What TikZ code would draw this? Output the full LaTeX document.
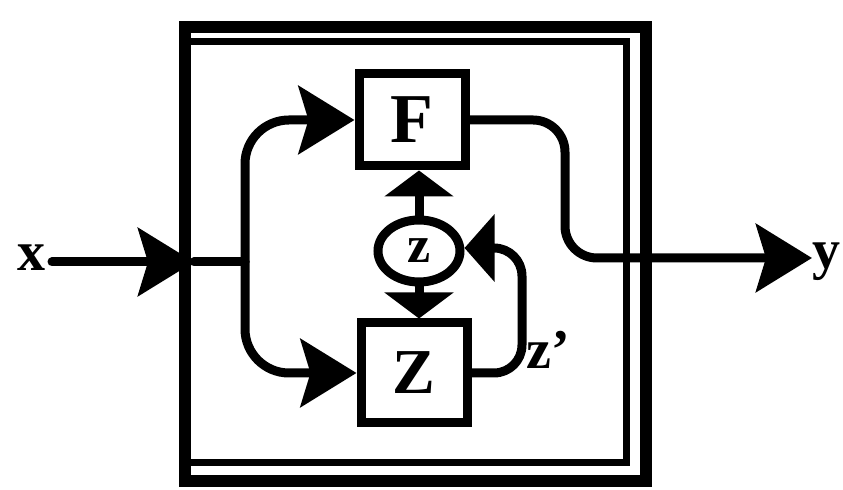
\documentclass[tikz,border=0pt]{standalone}
\usepackage{fontspec}
\setmainfont{Liberation Serif}
\usetikzlibrary{arrows.meta,shapes.geometric}
\tikzset{
  conn/.style={line width=4.5pt, line cap=round, line join=round},
  bigarrow/.style={-{Stealth[length=28pt,width=34pt,inset=5pt]}},
  flatarrow/.style={-{Triangle[length=13pt,width=34pt]}},
  blockbox/.style={draw, line width=4.5pt, rectangle, inner sep=0pt},
  lbl/.style={inner sep=0pt, font=\fontsize{28}{30}\selectfont\bfseries},
}
\begin{document}
\begin{tikzpicture}[x=0.5pt,y=-0.5pt]
\useasboundingbox (0,0) rectangle (843,490);
% enclosing double frame
\draw[line width=6pt] (185,27) rectangle (646,481);
\draw[line width=3.5pt] (186,42) -- (626,42) -- (626,463) -- (186,463);
% blocks
\node[blockbox, minimum width=53pt, minimum height=46pt] (F) at (412,120) {\fontsize{35}{38}\selectfont\bfseries F};
\node[blockbox, minimum width=53pt, minimum height=50pt] (Z) at (414,373) {\fontsize{32}{34}\selectfont\bfseries Z};
\node[draw, ellipse, line width=4.5pt, minimum width=41pt, minimum height=31pt, inner sep=0pt] (zs) at (419,251) {\fontsize{26}{28}\selectfont\bfseries z};
% labels
\node[lbl] (xl) at (32,258) {x};
\node[lbl] (yl) at (826,262) {y};
\node[lbl] (zp) at (548,350) {z'};
% coordinates
\coordinate (xin) at (52,262);
\coordinate (tipin) at (194,262);
\coordinate (br) at (245,262);
\coordinate (fbk) at (522,248);
\coordinate (outc) at (565,258);
\coordinate (tipout) at (812,258);
% input
\draw[conn, bigarrow] (xin) -- (tipin);
\draw[conn] (tipin) -- (br);
\draw[conn, bigarrow, rounded corners=22pt] (br) |- (F.west);
\draw[conn, bigarrow, rounded corners=22pt] (br) |- (Z.west);
% z to blocks
\draw[conn, flatarrow] (zs.north) -- (zs.north |- F.south);
\draw[conn, flatarrow] (zs.south) -- (zs.south |- Z.north);
% feedback z'
\draw[conn, -{Triangle[length=15pt,width=33pt]}, rounded corners=14pt] (Z.east) -| (fbk) -- (zs.east |- fbk);
% output
\draw[conn, bigarrow, rounded corners=16pt] (F.east) -| (outc) -- (tipout);
\end{tikzpicture}
\end{document}
